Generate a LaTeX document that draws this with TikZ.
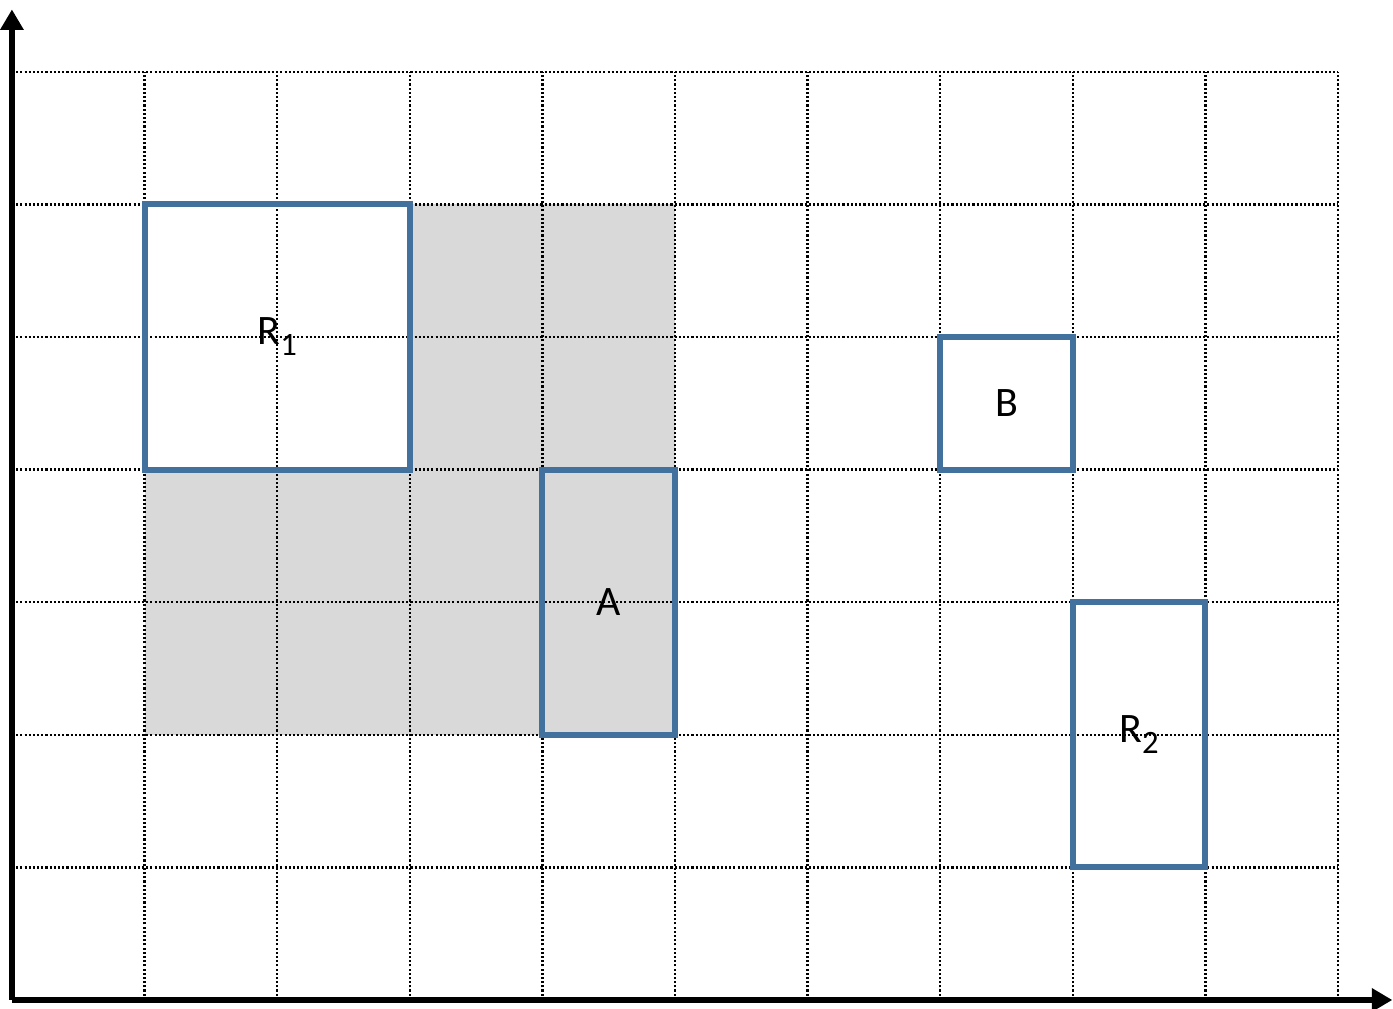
\documentclass[tikz,border=0pt]{standalone}
\usepackage{fontspec}
\setmainfont{Carlito}
\usepackage{tikz}
\usetikzlibrary{arrows.meta}
\definecolor{boxBlue}{HTML}{41719C}
\definecolor{areaGray}{HTML}{D9D9D9}
\newcommand{\lowidx}[1]{\raisebox{-0.55ex}{\fontsize{7}{8}\selectfont #1}}
\tikzset{
  axis/.style={line width=1.3pt,-{Triangle[width=4.8pt,length=4.4pt]}},
  gridline/.style={line width=0.5pt,dash pattern=on 0.45pt off 0.45pt},
  region/.style={rectangle,draw=boxBlue,line width=1.3pt,inner sep=0pt,
    font=\fontsize{9}{11}\selectfont},
  shaded/.style={fill=areaGray}
}

\begin{document}
\begin{tikzpicture}
  \useasboundingbox (-0.09,-0.068) rectangle (10.415,7.541);
  % covered area and the inside of R1
  \fill[shaded] (1,2) rectangle (5,6);
  \fill[white] (1,4) rectangle (3,6);
  \draw[gridline] (0,0) grid (10,7);
  \node[region, minimum width=2cm, minimum height=2cm] (r1) at (2,5) {R\lowidx{1}};
  \node[region, minimum width=1cm, minimum height=2cm] (a) at (4.5,3) {A};
  \node[region, minimum width=1cm, minimum height=1cm] (b) at (7.5,4.5) {B};
  \node[region, minimum width=1cm, minimum height=2cm] (r2) at (8.5,2) {R\lowidx{2}};
  % axes
  \coordinate (o) at (0,0);
  \coordinate (xend) at (10.41,0);
  \coordinate (yend) at (0,7.47);
  \draw[axis] (o) -- (xend);
  \draw[axis] (o) -- (yend);
\end{tikzpicture}
\end{document}
